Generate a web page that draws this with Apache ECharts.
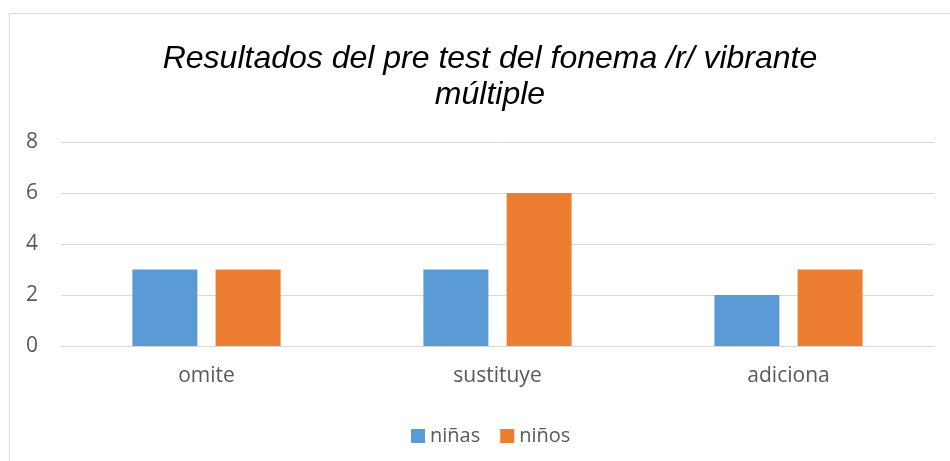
<!DOCTYPE html>
<html><head><meta charset="utf-8">
<script src="https://cdn.jsdelivr.net/npm/echarts@6/dist/echarts.min.js"></script>
<style>html,body{margin:0;padding:0;background:#fff}#c{width:950px;height:461px}</style>
</head><body><div id="c"></div>
<script>
const categories = ['omite', 'sustituye', 'adiciona'];
const ninas = [3, 3, 2];
const ninos = [3, 6, 3];
const seriesNames = ['niñas', 'niños'];
const titleText = 'Resultados del pre test del fonema /r/ vibrante\nmúltiple';

const chart = echarts.init(document.getElementById('c'), null, {renderer: 'canvas'});
chart.setOption({
  animation: false,
  backgroundColor: '#fff',
  graphic: [{
    type: 'rect', shape: {x: 9.5, y: 13.5, width: 960, height: 470},
    style: {fill: 'none', stroke: '#d9d9d9', lineWidth: 1}, silent: true, z: -1
  }],
  title: {
    text: titleText, left: 485, top: 36, textAlign: 'center',
    textStyle: {fontFamily: 'Liberation Sans, Arial, sans-serif', fontStyle: 'italic', fontWeight: 'normal', fontSize: 32, lineHeight: 36, color: '#000'}
  },
  legend: {
    data: seriesNames, left: 406, top: 421, itemWidth: 14, itemHeight: 14, itemGap: 20,
    icon: 'rect',
    textStyle: {fontFamily: 'Open Sans, sans-serif', fontSize: 20, color: '#595959', padding: [0, 0, 0, 0]}
  },
  grid: {left: 61, right: 16, top: 142, bottom: 115, containLabel: false},
  xAxis: {
    type: 'category', data: categories,
    axisLine: {show: true, lineStyle: {color: '#d9d9d9', width: 1}},
    axisTick: {show: false},
    axisLabel: {fontFamily: 'Open Sans, sans-serif', fontSize: 21, color: '#595959', margin: 20}
  },
  yAxis: {
    type: 'value', min: 0, max: 8, interval: 2,
    axisLine: {show: false}, axisTick: {show: false},
    splitLine: {lineStyle: {color: '#d9d9d9', width: 1}},
    axisLabel: {fontFamily: 'Open Sans, sans-serif', fontSize: 21, color: '#595959', margin: 23}
  },
  series: [
    {name: seriesNames[0], type: 'bar', data: ninas, barWidth: 65, barGap: '28%', itemStyle: {color: '#5b9bd5'}},
    {name: seriesNames[1], type: 'bar', data: ninos, barWidth: 65, barGap: '28%', itemStyle: {color: '#ed7d31'}}
  ]
});
</script></body></html>
